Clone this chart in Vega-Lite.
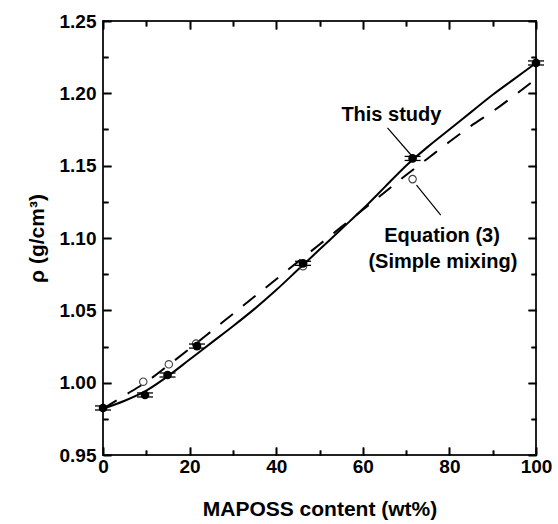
{
  "$schema": "https://vega.github.io/schema/vega-lite/v6.json",
  "width": 433,
  "height": 434,
  "autosize": {"type": "none"},
  "padding": {"left": 103, "top": 21, "right": 22, "bottom": 69},
  "background": "white",
  "config": {
    "view": {"stroke": "#222", "strokeWidth": 2},
    "axis": {"grid": false}
  },
  "datasets": {
    "fit": [
      {"w": 0, "rho": 0.982}, {"w": 5, "rho": 0.9875}, {"w": 10, "rho": 0.9945},
      {"w": 15, "rho": 1.0045}, {"w": 20, "rho": 1.016}, {"w": 25, "rho": 1.0275},
      {"w": 30, "rho": 1.039}, {"w": 35, "rho": 1.051}, {"w": 40, "rho": 1.064},
      {"w": 45, "rho": 1.078}, {"w": 50, "rho": 1.092}, {"w": 55, "rho": 1.106},
      {"w": 60, "rho": 1.12}, {"w": 65, "rho": 1.135}, {"w": 70, "rho": 1.15},
      {"w": 75, "rho": 1.163}, {"w": 80, "rho": 1.175}, {"w": 85, "rho": 1.187},
      {"w": 90, "rho": 1.199}, {"w": 95, "rho": 1.21}, {"w": 100, "rho": 1.221}
    ],
    "eq": [
      {"w": 0, "rho": 0.982}, {"w": 5, "rho": 0.9912}, {"w": 10, "rho": 1.0005},
      {"w": 15, "rho": 1.0118}, {"w": 20, "rho": 1.0235}, {"w": 25, "rho": 1.0355},
      {"w": 30, "rho": 1.0475}, {"w": 35, "rho": 1.0595}, {"w": 40, "rho": 1.0715},
      {"w": 45, "rho": 1.0835}, {"w": 50, "rho": 1.0955}, {"w": 55, "rho": 1.1075},
      {"w": 60, "rho": 1.1195}, {"w": 65, "rho": 1.1315}, {"w": 70, "rho": 1.1435},
      {"w": 75, "rho": 1.155}, {"w": 80, "rho": 1.1665}, {"w": 85, "rho": 1.1775},
      {"w": 90, "rho": 1.1875}, {"w": 95, "rho": 1.1985}, {"w": 100, "rho": 1.21}
    ],
    "study": [
      {"w": 0, "rho": 0.9825, "lo": 0.9811, "hi": 0.9839},
      {"w": 9.7, "rho": 0.9915, "lo": 0.9901, "hi": 0.9929},
      {"w": 14.9, "rho": 1.0053, "lo": 1.0039, "hi": 1.0067},
      {"w": 21.7, "rho": 1.0253, "lo": 1.0239, "hi": 1.0267},
      {"w": 46.2, "rho": 1.0825, "lo": 1.0811, "hi": 1.0839},
      {"w": 71.5, "rho": 1.155, "lo": 1.1536, "hi": 1.1564},
      {"w": 100, "rho": 1.221, "lo": 1.2196, "hi": 1.2224}
    ],
    "eqpts": [
      {"w": 9.3, "rho": 1.0007},
      {"w": 15.2, "rho": 1.0127},
      {"w": 21.5, "rho": 1.027},
      {"w": 46.2, "rho": 1.0805},
      {"w": 71.5, "rho": 1.1407}
    ],
    "leaders": [
      {"x": 65.7, "y": 1.1761, "x2": 71.4, "y2": 1.1565},
      {"x": 72.4, "y": 1.1365, "x2": 78.0, "y2": 1.1158}
    ],
    "notes": [
      {"x": 66.6, "y": 1.181, "t": "This study"},
      {"x": 78.3, "y": 1.0974, "t": "Equation (3)"},
      {"x": 78.5, "y": 1.079, "t": "(Simple mixing)"}
    ]
  },
  "layer": [
    {
      "data": {"name": "fit"},
      "mark": {"type": "line", "color": "black", "strokeWidth": 2, "interpolate": "monotone"},
      "encoding": {
        "x": {"field": "w", "type": "quantitative",
          "scale": {"domain": [0, 100], "nice": false, "zero": false},
          "axis": {"orient": "bottom", "zindex": 1, "values": [0, 20, 40, 60, 80, 100], "domain": false, "grid": true, "gridDash": [8, 2000], "gridColor": "black", "gridWidth": 1.6, "tickSize": -8, "tickColor": "black", "tickWidth": 1.6, "labelPadding": 10, "labelFlush": false, "labelFont": "Liberation Sans", "labelFontWeight": "bold", "labelFontSize": 19, "labelColor": "black", "title": "MAPOSS content (wt%)", "titlePadding": 22, "titleFont": "Liberation Sans", "titleFontWeight": "bold", "titleFontSize": 21, "titleColor": "black"}},
        "y": {"field": "rho", "type": "quantitative",
          "scale": {"domain": [0.95, 1.25], "nice": false, "zero": false},
          "axis": {"orient": "left", "zindex": 1, "values": [0.95, 1.0, 1.05, 1.1, 1.15, 1.2, 1.25], "format": ".2f", "domain": false, "grid": true, "gridDash": [8, 2000], "gridColor": "black", "gridWidth": 1.6, "tickSize": -8, "tickColor": "black", "tickWidth": 1.6, "labelPadding": 15, "labelFont": "Liberation Sans", "labelFontWeight": "bold", "labelFontSize": 19, "labelColor": "black", "title": "ρ (g/cm³)", "titlePadding": 12, "titleFont": "Liberation Sans", "titleFontWeight": "bold", "titleFontSize": 21, "titleColor": "black"}}
      }
    },
    {
      "data": {"name": "eq"},
      "mark": {"type": "line", "color": "black", "strokeWidth": 2, "strokeDash": [16, 13], "interpolate": "monotone"},
      "encoding": {
        "x": {"field": "w", "type": "quantitative",
          "axis": {"orient": "bottom", "zindex": 1, "values": [10, 30, 50, 70, 90], "domain": false, "grid": true, "gridDash": [5, 2000], "gridColor": "black", "gridWidth": 1.6, "tickSize": -5, "tickColor": "black", "tickWidth": 1.6, "labels": false, "title": null}},
        "y": {"field": "rho", "type": "quantitative",
          "axis": {"orient": "left", "zindex": 1, "values": [0.975, 1.025, 1.075, 1.125, 1.175, 1.225], "domain": false, "grid": true, "gridDash": [5, 2000], "gridColor": "black", "gridWidth": 1.6, "tickSize": -5, "tickColor": "black", "tickWidth": 1.6, "labels": false, "title": null}}
      }
    },
    {
      "data": {"name": "eqpts"},
      "mark": {"type": "point", "shape": "circle", "filled": false, "stroke": "#444", "strokeWidth": 1.1, "size": 55, "opacity": 1},
      "encoding": {
        "x": {"field": "w", "type": "quantitative",
          "axis": {"orient": "top", "zindex": 1, "values": [10, 30, 50, 70, 90], "domain": false, "grid": true, "gridDash": [5, 2000], "gridColor": "black", "gridWidth": 1.6, "tickSize": -5, "tickColor": "black", "tickWidth": 1.6, "labels": false, "title": null}},
        "y": {"field": "rho", "type": "quantitative",
          "axis": {"orient": "right", "zindex": 1, "values": [0.975, 1.025, 1.075, 1.125, 1.175, 1.225], "domain": false, "grid": true, "gridDash": [5, 2000], "gridColor": "black", "gridWidth": 1.6, "tickSize": -5, "tickColor": "black", "tickWidth": 1.6, "labels": false, "title": null}}
      }
    },
    {
      "data": {"name": "study"},
      "mark": {"type": "point", "shape": "circle", "filled": true, "color": "black", "size": 75, "opacity": 1},
      "encoding": {
        "x": {"field": "w", "type": "quantitative",
          "axis": {"orient": "top", "zindex": 1, "values": [0, 20, 40, 60, 80, 100], "domain": false, "grid": true, "gridDash": [8, 2000], "gridColor": "black", "gridWidth": 1.6, "tickSize": -8, "tickColor": "black", "tickWidth": 1.6, "labels": false, "title": null}},
        "y": {"field": "rho", "type": "quantitative",
          "axis": {"orient": "right", "zindex": 1, "values": [0.95, 1.0, 1.05, 1.1, 1.15, 1.2, 1.25], "domain": false, "grid": true, "gridDash": [8, 2000], "gridColor": "black", "gridWidth": 1.6, "tickSize": -8, "tickColor": "black", "tickWidth": 1.6, "labels": false, "title": null}}
      }
    },
    {
      "data": {"name": "study"},
      "mark": {"type": "point", "shape": "M-1,0L1,0", "filled": false, "color": "black", "strokeWidth": 1.3, "size": 256, "opacity": 1},
      "encoding": {
        "x": {"field": "w", "type": "quantitative", "axis": null},
        "y": {"field": "lo", "type": "quantitative", "axis": null}
      }
    },
    {
      "data": {"name": "study"},
      "mark": {"type": "point", "shape": "M-1,0L1,0", "filled": false, "color": "black", "strokeWidth": 1.3, "size": 256, "opacity": 1},
      "encoding": {
        "x": {"field": "w", "type": "quantitative", "axis": null},
        "y": {"field": "hi", "type": "quantitative", "axis": null}
      }
    },
    {
      "data": {"name": "leaders"},
      "mark": {"type": "rule", "color": "black", "strokeWidth": 1.2},
      "encoding": {
        "x": {"field": "x", "type": "quantitative", "axis": null},
        "y": {"field": "y", "type": "quantitative", "axis": null},
        "x2": {"field": "x2"},
        "y2": {"field": "y2"}
      }
    },
    {
      "data": {"name": "notes"},
      "mark": {"type": "text", "font": "Liberation Sans", "fontWeight": "bold", "fontSize": 20, "color": "black", "align": "center", "baseline": "alphabetic"},
      "encoding": {
        "x": {"field": "x", "type": "quantitative", "axis": null},
        "y": {"field": "y", "type": "quantitative", "axis": null},
        "text": {"field": "t"}
      }
    }
  ],
  "resolve": {"axis": {"x": "independent", "y": "independent"}}
}
